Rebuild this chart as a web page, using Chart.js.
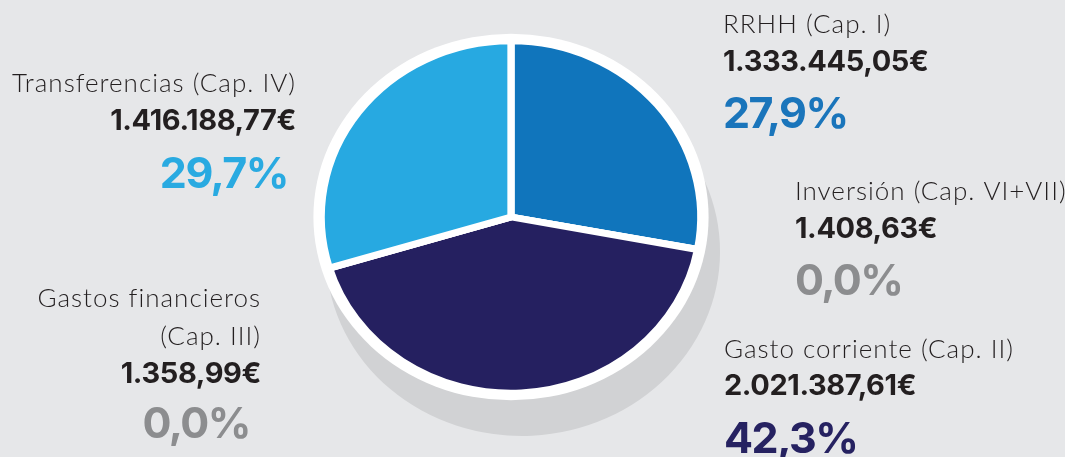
<!DOCTYPE html>
<html>
<head>
<meta charset="utf-8">
<script src="https://cdn.jsdelivr.net/npm/chart.js@4"></script>
<style>
  html, body { margin: 0; padding: 0; background: #e6e7e9; }
  #wrap { width: 1065px; height: 457px; position: relative; }
</style>
</head>
<body>
<div id="wrap"><canvas id="budgetPie"></canvas></div>
<script>
const budgetPie = document.getElementById('budgetPie');

// data
const categories = ['RRHH (Cap. I)', 'Inversión (Cap. VI+VII)', 'Gasto corriente (Cap. II)', 'Gastos financieros (Cap. III)', 'Transferencias (Cap. IV)'];
const amounts = [1333445.05, 1408.63, 2021387.61, 1358.99, 1416188.77];
const sliceColors = ['#1075bc', '#8c8d8f', '#252060', '#8c8d8f', '#27a9e1'];

const total = amounts.reduce((a, b) => a + b, 0);

function euro(v) {
    let parts = v.toFixed(2).split('.');
    parts[0] = parts[0].replace(/\B(?=(\d{3})+(?!\d))/g, '.');
    return parts[0] + ',' + parts[1] + '€';
}
function pct(v) {
    return (v / total * 100).toFixed(1).replace('.', ',') + '%';
}

// squash the circle a bit so it looks like the original ellipse
const SX = 1.04, SY = 0.965;

const ellipsePlugin = {
    id: 'ellipse',
    beforeDatasetsDraw(chart) {
        const arc = chart.getDatasetMeta(0).data[0];
        const ctx = chart.ctx, cx = arc.x, cy = arc.y, r = arc.outerRadius;
        ctx.save();
        // shadow
        ctx.fillStyle = '#d1d2d4';
        ctx.beginPath();
        ctx.ellipse(cx + 12, cy + 36, (r + 7) * SX, (r + 7) * SY, -0.05, 0, Math.PI * 2);
        ctx.fill();
        // white rim
        ctx.fillStyle = '#ffffff';
        ctx.beginPath();
        ctx.ellipse(cx, cy, (r + 7.5) * SX, (r + 7.5) * SY, 0, 0, Math.PI * 2);
        ctx.fill();
        ctx.translate(cx, cy);
        ctx.scale(SX, SY);
        ctx.translate(-cx, -cy);
    },
    afterDatasetsDraw(chart) {
        chart.ctx.restore();
    }
};

// label blocks, positions in px
const labelLayout = [
    { i: 0, x: 723, align: 'left', lines: ['RRHH (Cap. I)'], ly: [33], ny: 71, py: 128, pc: '#1a75bb' },
    { i: 1, x: 795, align: 'left', lines: ['Inversión (Cap. VI+VII)'], ly: [200], ny: 238, py: 295, pc: '#8c8d8f' },
    { i: 2, x: 724, align: 'left', lines: ['Gasto corriente (Cap. II)'], ly: [358], ny: 395, py: 453, pc: '#262261' },
    { i: 3, x: 261, align: 'right', lines: ['Gastos financieros', '(Cap. III)'], ly: [307, 345], ny: 383, py: 438, pc: '#8c8d8f', px: 250 },
    { i: 4, x: 296, align: 'right', lines: ['Transferencias (Cap. IV)'], ly: [92], ny: 130, py: 188, pc: '#29aae1', px: 288 }
];

const labelPlugin = {
    id: 'outerLabels',
    afterDraw(chart) {
        const ctx = chart.ctx;
        ctx.save();
        labelLayout.forEach(l => {
            ctx.textAlign = l.align;
            ctx.textBaseline = 'alphabetic';
            ctx.fillStyle = '#231f20';
            ctx.font = '300 26px Lato';
            ctx.letterSpacing = '1px';
            l.lines.forEach((t, k) => ctx.fillText(t, l.x, l.ly[k]));
            ctx.font = 'bold 29px Inter';
            ctx.letterSpacing = '-0.4px';
            ctx.fillText(euro(amounts[l.i]), l.x, l.ny);
            ctx.font = 'bold 43px Inter';
            ctx.letterSpacing = '-1.5px';
            ctx.fillStyle = l.pc;
            ctx.fillText(pct(amounts[l.i]), l.px || l.x, l.py);
        });
        ctx.restore();
    }
};

new Chart(budgetPie, {
    type: 'pie',
    plugins: [ellipsePlugin, labelPlugin],
    data: {
        labels: categories,
        datasets: [
            {
                data: amounts,
                backgroundColor: sliceColors,
                borderColor: '#ffffff',
                borderWidth: 7,
                hoverOffset: 0
            }
        ]
    },
    options: {
        responsive: true,
        maintainAspectRatio: false,
        animation: false,
        layout: {
            padding: { top: 31, bottom: 54, left: 300, right: 343 }
        },
        plugins: {
            legend: { display: false },
            tooltip: { enabled: false }
        }
    }
});
</script>
</body>
</html>
